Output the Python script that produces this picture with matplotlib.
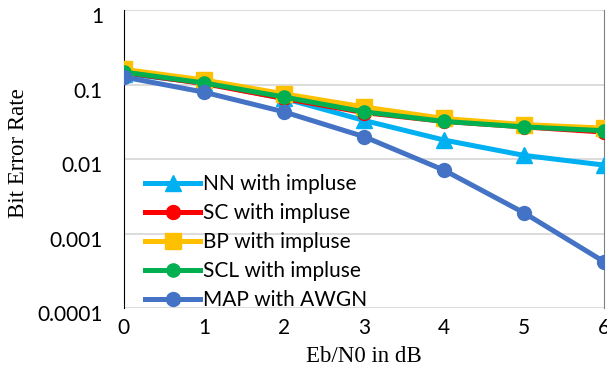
import numpy as np
import matplotlib.pyplot as plt
from matplotlib.transforms import ScaledTranslation

snr = [0, 1, 2, 3, 4, 5, 6]
nn_impulse = [0.14, 0.105, 0.065, 0.033, 0.018, 0.0112, 0.0083]
sc_impulse = [0.145, 0.103, 0.065, 0.042, 0.032, 0.027, 0.023]
bp_impulse = [0.16, 0.115, 0.075, 0.05, 0.035, 0.029, 0.026]
scl_impulse = [0.147, 0.105, 0.068, 0.043, 0.032, 0.027, 0.024]
map_awgn = [0.126, 0.079, 0.043, 0.020, 0.0071, 0.0019, 0.00042]

labels = ['NN with impluse', 'SC with impluse', 'BP with impluse',
          'SCL with impluse', 'MAP with AWGN']

plt.rcParams['font.family'] = ['Lato', 'DejaVu Sans']

fig = plt.figure(figsize=(6.07, 3.69), dpi=100)
ax = fig.add_axes([0.204, 0.165, 0.791, 0.808])

lw = 3.6
ax.plot(snr, nn_impulse, color='#00b0f0', lw=lw, marker='^', ms=11, label=labels[0], zorder=3)
ax.plot(snr, sc_impulse, color='#ff0000', lw=lw, marker='o', ms=10, label=labels[1], zorder=4)
ax.plot(snr, bp_impulse, color='#ffc000', lw=lw, marker='s', ms=11, label=labels[2], zorder=5)
ax.plot(snr, scl_impulse, color='#00b050', lw=lw, marker='o', ms=9.5, label=labels[3], zorder=6)
ax.plot(snr, map_awgn, color='#4472c4', lw=lw, marker='o', ms=10, label=labels[4], zorder=7)

ax.set_yscale('log')
ax.set_xlim(0, 6)
ax.set_ylim(0.0001, 1)
ax.set_yticks([0.0001, 0.001, 0.01, 0.1, 1])
ax.set_yticklabels(['0.0001', '0.001', '0.01', '0.1', '1'])
ax.yaxis.set_minor_locator(plt.NullLocator())
ax.set_xticks(snr)
ax.tick_params(length=0, labelsize=15)
ax.tick_params(axis='y', pad=15)
ax.tick_params(axis='x', pad=7)
shift = ScaledTranslation(0, -5 / 100, fig.dpi_scale_trans)
for lab in ax.get_yticklabels():
    lab.set_transform(lab.get_transform() + shift)
ax.grid(axis='y', color='#d9d9d9', lw=1.3)
ax.set_axisbelow(True)
for s in ['top', 'bottom']:
    ax.spines[s].set_visible(False)
ax.spines['left'].set_color('black')
ax.spines['left'].set_linewidth(0.8)
ax.spines['right'].set_color('#808080')

ax.set_xlabel('Eb/N0 in dB', family='Liberation Serif', fontsize=16.5, labelpad=6)
ax.set_ylabel('Bit Error Rate', family='Liberation Serif', fontsize=16.5)
ax.yaxis.set_label_coords(-0.197, 0.52)

ax.legend(loc='lower left', frameon=False, fontsize=15, handlelength=2.65,
          labelspacing=0.43, handletextpad=0.15, borderaxespad=0, borderpad=0,
          bbox_to_anchor=(145 / 607, 1 - 310 / 369), bbox_transform=fig.transFigure)

fig.savefig('out.png', dpi=100)
